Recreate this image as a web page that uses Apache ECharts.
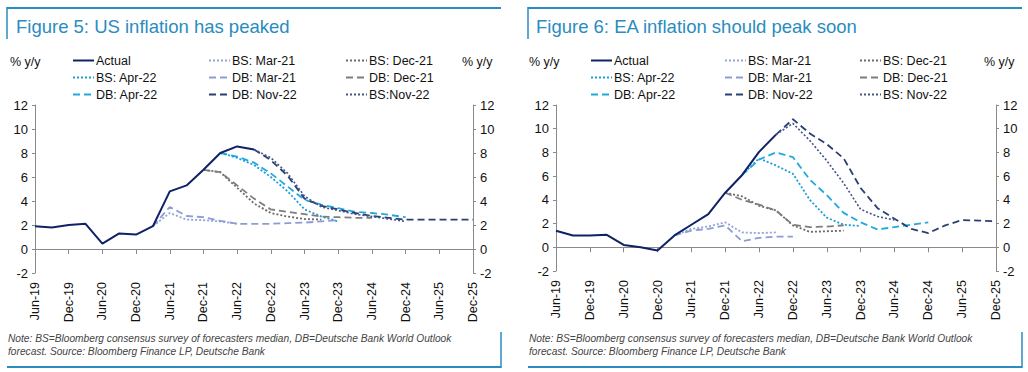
<!DOCTYPE html>
<html><head><meta charset="utf-8">
<script src="https://cdn.jsdelivr.net/npm/echarts@6/dist/echarts.min.js"></script>
<style>
html,body{margin:0;padding:0;background:#fff;}
#wrap{position:relative;width:1028px;height:372px;}
.c{position:absolute;top:0;width:514px;height:372px;}
</style></head>
<body><div id="wrap"><div id="c1" class="c" style="left:0"></div><div id="c2" class="c" style="left:514px"></div></div>
<script>
// ---------- DATA ----------
const quarters = ['Jun-19','Sep-19','Dec-19','Mar-20','Jun-20','Sep-20','Dec-20','Mar-21','Jun-21','Sep-21','Dec-21','Mar-22','Jun-22','Sep-22','Dec-22','Mar-23','Jun-23','Sep-23','Dec-23','Mar-24','Jun-24','Sep-24','Dec-24','Mar-25','Jun-25','Sep-25','Dec-25'];
const yTicks = [-2, 0, 2, 4, 6, 8, 10, 12];
const _ = null;

// US (Figure 5)
const usActual = [1.9,1.8,2.0,2.1,0.45,1.3,1.2,1.9,4.8,5.3,6.6,8.0,8.55,8.3];
const usBsMar21 = [_,_,_,_,_,_,_,1.9,3.0,2.45,2.4,2.3,2.1];
const usDbMar21 = [_,_,_,_,_,_,_,1.9,3.5,2.75,2.65,2.35,2.1,2.1,2.1,2.15,2.2,2.3,2.4];
const usBsDec21 = [_,_,_,_,_,_,_,_,_,_,6.6,6.4,5.1,3.8,3.0,2.7,2.5,2.45];
const usDbDec21 = [_,_,_,_,_,_,_,_,_,_,6.6,6.4,5.3,4.2,3.3,3.1,2.9,2.7,2.65,2.6,2.6];
const usBsApr22 = [_,_,_,_,_,_,_,_,_,_,_,8.0,7.6,7.0,6.0,4.8,3.3,2.7,2.3];
const usDbApr22 = [_,_,_,_,_,_,_,_,_,_,_,8.0,7.7,7.2,6.3,5.2,4.1,3.7,3.4,3.1,3.0,2.85,2.65];
const usDbNov22 = [_,_,_,_,_,_,_,_,_,_,_,_,_,8.3,7.4,6.1,4.2,3.6,3.3,3.0,2.75,2.6,2.45,2.45,2.45,2.45,2.45];
const usBsNov22 = [_,_,_,_,_,_,_,_,_,_,_,_,_,8.3,7.6,6.3,4.4,3.5,3.2,2.9,2.7,2.5,2.3];

// EA (Figure 6)
const eaActual = [1.4,1.0,1.0,1.05,0.2,0.0,-0.28,1.0,1.9,2.8,4.6,6.1,8.05,9.5];
const eaBsMar21 = [_,_,_,_,_,_,_,1.0,1.55,1.75,2.1,1.25,1.2,1.25];
const eaDbMar21 = [_,_,_,_,_,_,_,1.0,1.4,1.55,1.85,0.5,0.8,0.9,0.9];
const eaBsDec21 = [_,_,_,_,_,_,_,_,_,_,4.6,4.3,3.5,3.1,1.85,1.3,1.35,1.4];
const eaDbDec21 = [_,_,_,_,_,_,_,_,_,_,4.6,4.0,3.6,3.1,1.9,1.7,1.75,1.85];
const eaBsApr22 = [_,_,_,_,_,_,_,_,_,_,_,6.1,7.5,6.9,6.2,4.0,2.5,1.9,1.8];
const eaDbApr22 = [_,_,_,_,_,_,_,_,_,_,_,6.1,7.4,8.0,7.6,5.7,4.4,2.9,2.1,1.5,1.7,1.9,2.1];
const eaDbNov22 = [_,_,_,_,_,_,_,_,_,_,_,_,_,9.5,10.8,9.6,8.7,7.5,5.0,3.3,2.4,1.55,1.2,1.85,2.3,2.25,2.2];
const eaBsNov22 = [_,_,_,_,_,_,_,_,_,_,_,_,_,9.5,10.45,9.0,7.3,5.4,3.2,2.6,2.3];

const noteLines = ['Note: BS=Bloomberg consensus survey of forecasters median, DB=Deutsche Bank World Outlook','forecast. Source: Bloomberg Finance LP, Deutsche Bank'];

// ---------- STYLES ----------
const FONT = '"Liberation Sans", Arial, Helvetica, sans-serif';
const BLUE = '#2a8cc0';
const DOT = [2, 2];
const DASH = [7, 4];
const styles = {
  actual: {color:'#0f2266', type:'solid', width:2},
  bsMar21:{color:'#93a3dc', type:DOT, width:1.8},
  dbMar21:{color:'#8d9dd4', type:DASH, width:1.8},
  bsDec21:{color:'#6b6b6b', type:DOT, width:1.8},
  dbDec21:{color:'#7d7d7d', type:DASH, width:1.8},
  bsApr22:{color:'#1a9fd8', type:DOT, width:1.8},
  dbApr22:{color:'#1eaade', type:DASH, width:1.8},
  dbNov22:{color:'#2a3f73', type:DASH, width:1.8},
  bsNov22:{color:'#44548a', type:DOT, width:1.6}
};

function build(el, cfg) {
  const chart = echarts.init(el, null, {renderer:'svg', width:514, height:372});
  const ser = cfg.series.map(s => ({
    name: s.name, type:'line', data: s.data, xAxisIndex:0, yAxisIndex:0,
    symbol:'none', connectNulls:false, silent:true, z: s.key==='actual'?10:5,
    lineStyle: Object.assign({}, styles[s.key]),
    itemStyle: {color: styles[s.key].color}
  }));
  const names = cfg.series.map(s => s.name);
  const cols = [[names[0], names[3], names[6]], [names[1], names[4], names[7]], [names[2], names[5], names[8]]];
  const legends = cols.map((d, i) => ({
    data: d, orient:'vertical', left: cfg.legendX[i], top: 54, padding:0,
    itemGap: 4, itemWidth: 21, itemHeight: 14, selectedMode:false,
    itemStyle:{opacity:0, borderWidth:0},
    textStyle:{fontFamily:FONT, fontSize:12.5, color:'#111', padding:[0,0,0,-3]}
  }));
  const yBase = {
    type:'value', min: yTicks[0], max: yTicks[yTicks.length-1], interval:2,
    splitLine:{show:false},
    axisLine:{show:true, lineStyle:{color:'#8a8a8a', width:1}},
    axisTick:{show:true, length:3, lineStyle:{color:'#8a8a8a'}},
    axisLabel:{fontFamily:FONT, fontSize:13, color:'#111', margin:7}
  };
  const g = cfg.grid;
  const option = {
    animation:false,
    grid:{left:g.left, right:g.right, top:g.top, bottom:g.bottom, containLabel:false},
    legend: legends,
    xAxis:[
      {type:'category', data:quarters, boundaryGap:false, position:'bottom',
       axisLine:{show:false, onZero:false}, axisTick:{show:false},
       axisLabel:{interval:1, rotate:90, fontFamily:FONT, fontSize:12.5, color:'#111', margin:9}},
      {type:'category', data:quarters, boundaryGap:false, position:'bottom',
       axisLine:{show:true, onZero:true, lineStyle:{color:'#8a8a8a', width:1}},
       axisTick:{show:true, interval:1, length:5, lineStyle:{color:'#8a8a8a'}},
       axisLabel:{show:false}}
    ],
    yAxis:[Object.assign({}, yBase, {position:'left'}), Object.assign({}, yBase, {position:'right'})],
    series: ser,
    graphic: [
      {type:'line', shape:{x1:cfg.bx1, y1:8, x2:cfg.bx2, y2:8}, style:{stroke:BLUE, lineWidth:2}},
      {type:'line', shape:{x1:cfg.bx1, y1:7, x2:cfg.bx1, y2:39}, style:{stroke:BLUE, lineWidth:1.5}},
      {type:'line', shape:{x1:cfg.bx1, y1:367, x2:cfg.bx2, y2:367}, style:{stroke:BLUE, lineWidth:2}},
      {type:'line', shape:{x1:cfg.bx2, y1:332, x2:cfg.bx2, y2:368}, style:{stroke:BLUE, lineWidth:1.5}},
      {type:'text', left:cfg.titleX, top:17, style:{text:cfg.title, fill:BLUE, font:'18.5px '+FONT}},
      {type:'text', left:cfg.unitL, top:55, style:{text:'% y/y', fill:'#111', font:'12.5px '+FONT}},
      {type:'text', left:cfg.unitR, top:55, style:{text:'% y/y', fill:'#111', font:'12.5px '+FONT}},
      {type:'text', left:cfg.bx1+1, top:333, style:{text:noteLines[0], fill:'#444', font:'italic 10.2px '+FONT}},
      {type:'text', left:cfg.bx1+1, top:346, style:{text:noteLines[1], fill:'#444', font:'italic 10.2px '+FONT}}
    ]
  };
  chart.setOption(option);
}

build(document.getElementById('c1'), {
  title:'Figure 5: US inflation has peaked', titleX:16,
  grid:{left:35, right:41, top:105, bottom:99},
  legendX:[72, 208, 345], unitL:10, unitR:462, bx1:7, bx2:501,
  series:[
    {name:'Actual', key:'actual', data:usActual},
    {name:'BS: Mar-21', key:'bsMar21', data:usBsMar21},
    {name:'BS: Dec-21', key:'bsDec21', data:usBsDec21},
    {name:'BS: Apr-22', key:'bsApr22', data:usBsApr22},
    {name:'DB: Mar-21', key:'dbMar21', data:usDbMar21},
    {name:'DB: Dec-21', key:'dbDec21', data:usDbDec21},
    {name:'DB: Apr-22', key:'dbApr22', data:usDbApr22},
    {name:'DB: Nov-22', key:'dbNov22', data:usDbNov22},
    {name:'BS:Nov-22', key:'bsNov22', data:usBsNov22}
  ]
});

build(document.getElementById('c2'), {
  title:'Figure 6: EA inflation should peak soon', titleX:22,
  grid:{left:42, right:32, top:105, bottom:101},
  legendX:[76, 210, 345], unitL:15, unitR:470, bx1:14, bx2:508,
  series:[
    {name:'Actual', key:'actual', data:eaActual},
    {name:'BS: Mar-21', key:'bsMar21', data:eaBsMar21},
    {name:'BS: Dec-21', key:'bsDec21', data:eaBsDec21},
    {name:'BS: Apr-22', key:'bsApr22', data:eaBsApr22},
    {name:'DB: Mar-21', key:'dbMar21', data:eaDbMar21},
    {name:'DB: Dec-21', key:'dbDec21', data:eaDbDec21},
    {name:'DB: Apr-22', key:'dbApr22', data:eaDbApr22},
    {name:'DB: Nov-22', key:'dbNov22', data:eaDbNov22},
    {name:'BS: Nov-22', key:'bsNov22', data:eaBsNov22}
  ]
});
</script></body></html>
